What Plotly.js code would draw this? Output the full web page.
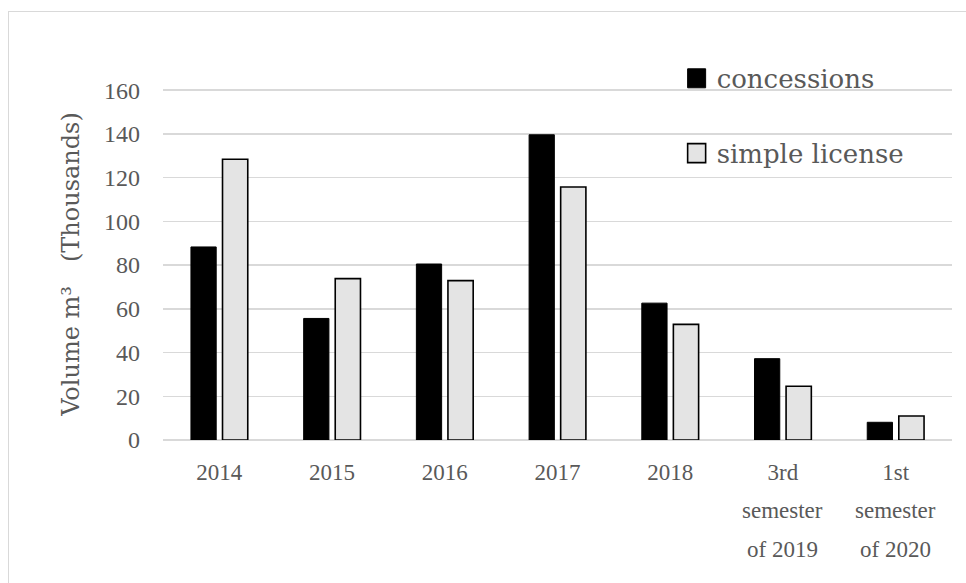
<!DOCTYPE html>
<html>
<head>
<meta charset="utf-8">
<script src="https://cdn.plot.ly/plotly-3.0.1.min.js"></script>
<style>
  html, body { margin: 0; padding: 0; background: #ffffff; overflow: hidden; }
  #frame { position: absolute; left: 8px; top: 11px; width: 1100px; height: 800px;
           border: 1.5px solid #d9d9d9; box-sizing: border-box; }
  #chart { position: absolute; left: 0; top: 0; width: 966px; height: 583px; }
</style>
</head>
<body>
<div id="frame"></div>
<div id="chart"></div>
<script>
// Harvested timber volume by permit type, in thousands of m³
const categories = ['2014', '2015', '2016', '2017', '2018', '3rd semester of 2019', '1st semester of 2020'];
const labelLines = [
  ['2014'], ['2015'], ['2016'], ['2017'], ['2018'],
  ['3rd', 'semester', 'of 2019'],
  ['1st', 'semester', 'of 2020']
];
const concessions = [88.3, 55.6, 80.5, 139.6, 62.6, 37.2, 8.1];
const simpleLicense = [128.4, 73.8, 72.9, 115.7, 52.9, 24.6, 11.0];
const yTicks = [0, 20, 40, 60, 80, 100, 120, 140, 160];

const textColor = '#595959';
const numFont = 'Liberation Serif';
const wordFont = 'DejaVu Serif';

const traces = [
  {
    type: 'bar', name: 'concessions', x: categories, y: concessions,
    legendgroup: 'a',
    marker: { color: '#000000', line: { color: '#000000', width: 1 } }
  },
  {
    type: 'bar', name: 'simple license', x: categories, y: simpleLicense,
    legendgroup: 'b',
    marker: { color: '#e4e4e4', line: { color: '#000000', width: 1.6 } }
  }
];

// extra label lines under the first tick line
const annotations = [];
labelLines.forEach((lines, i) => {
  lines.slice(1).forEach((line, j) => {
    annotations.push({
      x: categories[i], xref: 'x', y: 0, yref: 'paper',
      yanchor: 'middle', yshift: -31 - 39 * (j + 1),
      text: line, showarrow: false,
      font: { family: numFont, size: 23, color: textColor }
    });
  });
});

const layout = {
  width: 966, height: 583,
  margin: { l: 163, r: 14, t: 88, b: 142.5 },
  paper_bgcolor: 'rgba(0,0,0,0)',
  plot_bgcolor: 'rgba(0,0,0,0)',
  font: { family: numFont, color: textColor },
  barmode: 'group',
  bargap: 0.44,
  bargroupgap: 0.2,
  showlegend: true,
  legend: {
    x: 0.651, y: 1.094, xanchor: 'left', yanchor: 'top',
    bgcolor: 'rgba(0,0,0,0)',
    font: { family: wordFont, size: 26, color: textColor },
    tracegroupgap: 38,
    traceorder: 'grouped'
  },
  xaxis: {
    type: 'category',
    tickmode: 'array',
    tickvals: categories,
    ticktext: labelLines.map(l => l[0]),
    tickfont: { family: numFont, size: 23, color: textColor },
    ticks: '',
    ticklabelstandoff: 16,
    showgrid: false,
    showline: false,
    zeroline: false
  },
  yaxis: {
    range: [0, 161],
    tickmode: 'array',
    tickvals: yTicks,
    tickfont: { family: numFont, size: 24, color: textColor },
    ticks: '',
    ticklabelstandoff: 22,
    showgrid: true,
    gridcolor: '#d9d9d9',
    gridwidth: 1.5,
    zeroline: true,
    zerolinecolor: '#d9d9d9',
    zerolinewidth: 1.5,
    showline: false,
    title: {
      text: 'Volume m³\u2002\u2002(Thousands)',
      font: { family: wordFont, size: 24, color: textColor },
      standoff: 17
    }
  },
  annotations: annotations
};

Plotly.newPlot('chart', traces, layout, { displayModeBar: false, staticPlot: true })
  .then(gd => {
    // larger square swatches in the legend
    gd.querySelectorAll('.legendpoints path').forEach(p => p.setAttribute('d', 'M9,9.5H-9V-9.5H9Z'));
  });
</script>
</body>
</html>
